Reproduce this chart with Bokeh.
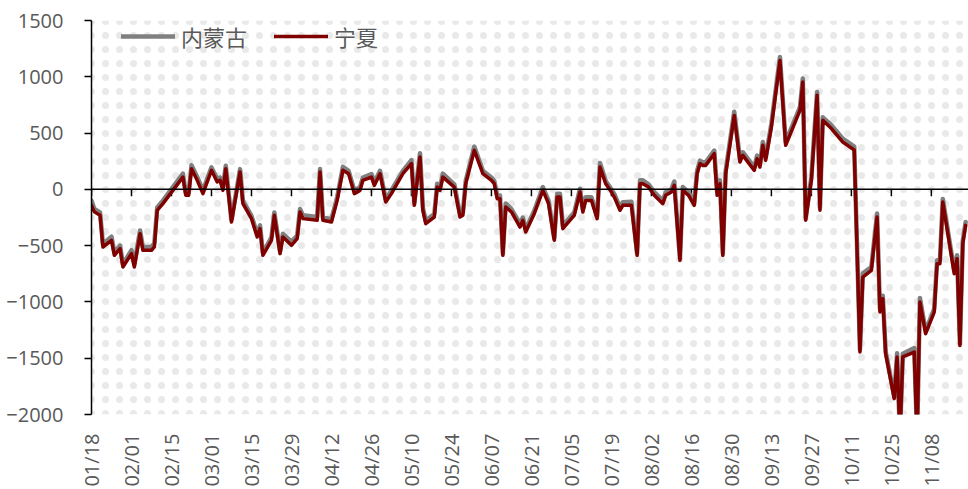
import math
import pandas as pd
from bokeh.plotting import figure
from bokeh.models import (Range1d, FixedTicker, DatetimeTickFormatter, Span, Legend,
                          LegendItem, BoxAnnotation)
from bokeh.embed import file_html
from bokeh.resources import INLINE

YEAR = 2021

dates = [
    "01-18", "01-19", "01-21", "01-22", "01-25", "01-26", "01-28", "01-29",
    "02-01", "02-02", "02-04", "02-05", "02-08", "02-09", "02-10", "02-12", "02-19", "02-20", "02-21", "02-22", "02-24", "02-26",
    "03-01", "03-03", "03-04", "03-05", "03-06", "03-08", "03-11", "03-12", "03-15", "03-17", "03-18", "03-19", "03-22", "03-23", "03-25", "03-26", "03-29", "03-31",
    "04-01", "04-02", "04-07", "04-08", "04-09", "04-12", "04-14", "04-16", "04-18", "04-20", "04-22", "04-23", "04-26", "04-27", "04-29",
    "05-01", "05-03", "05-07", "05-10", "05-11", "05-13", "05-14", "05-15", "05-18", "05-19", "05-20", "05-21", "05-25", "05-27", "05-28", "05-29",
    "06-01", "06-04", "06-07", "06-08", "06-09", "06-10", "06-11", "06-12", "06-14", "06-17", "06-18", "06-19", "06-22", "06-25", "06-27", "06-29", "06-30",
    "07-01", "07-02", "07-05", "07-06", "07-08", "07-09", "07-10", "07-12", "07-14", "07-15", "07-17", "07-19", "07-20", "07-22", "07-23", "07-26", "07-28", "07-29", "07-30",
    "08-01", "08-03", "08-06", "08-07", "08-09", "08-10", "08-12", "08-13", "08-15", "08-17", "08-18", "08-19", "08-20", "08-21", "08-24", "08-25", "08-26", "08-27", "08-28", "08-31",
    "09-02", "09-03", "09-07", "09-08", "09-09", "09-10", "09-11", "09-13", "09-16", "09-18", "09-23", "09-24", "09-25", "09-27", "09-29", "09-30",
    "10-01", "10-04", "10-08", "10-12", "10-14", "10-15", "10-18", "10-20", "10-21", "10-22", "10-23", "10-26", "10-27", "10-28", "10-29",
    "11-02", "11-03", "11-04", "11-06", "11-09", "11-10", "11-11", "11-12", "11-16", "11-17", "11-18", "11-19", "11-20",
]

ningxia = [
    -142, -200, -231, -512, -453, -586, -527, -690,
    -571, -690, -394, -542, -542, -512, -186, -127, 109, -53, -53, 184, 80, -38,
    169, 65, 80, -9, 184, -290, 154, -127, -260, -423, -349, -586, -453, -231, -571, -423, -497, -438,
    -201, -260, -275, 154, -275, -290, -98, 169, 139, -38, -9, 80, 109, 35, 139,
    -112, -38, 139, 228, -142, 287, -186, -305, -246, 20, -9, 109, 20, -246, -231, 50,
    346, 139, 80, 50, -83, -83, -586, -157, -201, -335, -275, -379, -216, -9, -127, -453, -68,
    -68, -349, -260, -231, -24, -201, -98, -98, -260, 198, 50, -24, -68, -186, -142, -142, -586, 50, 50,
    20, -53, -127, -53, -24, 35, -630, -9, -53, -142, 139, 228, 213, 213, 317, -53, 50, -586, 139, 657,
    243, 302, 169, 272, 198, 391, 258, 553, 1145, 391, 702, 953, -275, 80, 835, -186,
    613, 540, 420, 350, -1445, -779, -719, -246, -1090, -971, -1459, -1859, -1489, -2200, -1489,
    -1445, -2200, -1001, -1282, -1090, -660, -660, -112, -749, -616, -1386, -483, -320,
]

neimenggu = [
    -100, -175, -205, -485, -420, -560, -500, -665,
    -540, -665, -365, -515, -510, -480, -160, -100, 140, -30, -30, 215, 110, -10,
    195, 95, 105, 15, 210, -270, 180, -100, -235, -395, -320, -565, -425, -205, -550, -395, -465, -410,
    -175, -230, -245, 180, -250, -265, -70, 200, 165, -10, 20, 105, 135, 60, 165,
    -90, -10, 165, 260, -120, 320, -160, -280, -220, 50, 20, 140, 45, -220, -205, 75,
    380, 165, 105, 75, -55, -55, -570, -125, -175, -305, -250, -355, -190, 20, -100, -435, -40,
    -40, -325, -235, -205, 5, -175, -70, -70, -240, 235, 75, 0, -40, -160, -115, -110, -570, 80, 80,
    45, -25, -100, -25, 0, 70, -615, 20, -25, -115, 165, 255, 240, 240, 345, -20, 80, -570, 165, 690,
    270, 330, 195, 300, 225, 420, 285, 585, 1175, 420, 730, 985, -255, 110, 865, -165,
    640, 570, 450, 380, -1425, -745, -690, -215, -1065, -945, -1440, -1840, -1455, -2200, -1460,
    -1410, -2200, -965, -1260, -1060, -630, -630, -85, -720, -585, -1370, -455, -290,
]

tick_labels = ["01/18", "02/01", "02/15", "03/01", "03/15", "03/29", "04/12", "04/26",
               "05/10", "05/24", "06/07", "06/21", "07/05", "07/19", "08/02", "08/16",
               "08/30", "09/13", "09/27", "10/11", "10/25", "11/08"]
y_ticks = [-2000, -1500, -1000, -500, 0, 500, 1000, 1500]
series_names = ["内蒙古", "宁夏"]

assert len(dates) == len(ningxia) == len(neimenggu)

x = pd.to_datetime([f"{YEAR}-{d}" for d in dates])
tick_dates = pd.to_datetime([f"{YEAR}-{t.replace('/', '-')}" for t in tick_labels])
tick_ms = [t.timestamp() * 1000 for t in tick_dates]

LABEL = "#595959"
FONT = "Open Sans"

p = figure(width=968, height=489, x_axis_type="datetime", output_backend="svg",
           toolbar_location=None,
           x_range=Range1d(pd.Timestamp(f"{YEAR}-01-18"), pd.Timestamp(f"{YEAR}-11-21")),
           y_range=Range1d(-2000, 1500),
           min_border_left=91, min_border_right=0, min_border_top=20, min_border_bottom=0)
p.outline_line_color = None
p.xgrid.visible = False
p.ygrid.visible = False
p.background_fill_color = "white"
p.border_fill_color = "white"

# faint dotted background texture
p.add_layout(BoxAnnotation(fill_alpha=0, line_color=None, hatch_pattern="dot",
                           hatch_color="#e9e9e9", hatch_scale=14, hatch_weight=1,
                           level="underlay"))

# y axis
ya = p.yaxis[0]
ya.ticker = FixedTicker(ticks=y_ticks)
ya.axis_line_color = "black"
ya.axis_line_width = 1.5
ya.major_tick_line_color = "black"
ya.major_tick_line_width = 1.5
ya.major_tick_out = 7
ya.major_tick_in = 0
ya.minor_tick_line_color = None
ya.major_label_standoff = 21
ya.major_label_text_font = FONT
ya.major_label_text_font_size = "20px"
ya.major_label_text_color = LABEL

# x axis (labels at bottom)
xa = p.xaxis[0]
xa.ticker = FixedTicker(ticks=tick_ms)
fmt = "%m/%d"
xa.formatter = DatetimeTickFormatter(milliseconds=fmt, seconds=fmt, minsec=fmt, minutes=fmt,
                                     hourmin=fmt, hours=fmt, days=fmt, months=fmt, years=fmt)
xa.axis_line_color = None
xa.major_tick_line_color = None
xa.minor_tick_line_color = None
xa.major_tick_out = 0
xa.major_tick_in = 0
xa.major_label_orientation = math.pi / 2
xa.major_label_standoff = 19
xa.major_label_text_font = FONT
xa.major_label_text_font_size = "20px"
xa.major_label_text_color = LABEL

# zero line with tick marks
p.add_layout(Span(location=0, dimension="width", line_color="black", line_width=1.5))
p.segment(x0=tick_dates, y0=0, x1=tick_dates, y1=-62, line_color="black", line_width=1.5)

g = p.line(x, neimenggu, line_color="#808080", line_width=4.5, line_join="round", line_cap="round")
r = p.line(x, ningxia, line_color="#800000", line_width=3.5, line_join="round", line_cap="round")

legend = Legend(items=[LegendItem(label=series_names[0], renderers=[g]),
                       LegendItem(label=series_names[1], renderers=[r])],
                orientation="horizontal", location=(30, 362),
                label_text_font="Noto Sans CJK SC", label_text_font_size="22px",
                label_text_color=LABEL, label_height=30, glyph_width=54, glyph_height=30,
                label_standoff=6, spacing=27, padding=0, margin=0,
                background_fill_alpha=0, border_line_color=None)
p.add_layout(legend)

open("out.html", "w").write(file_html(p, INLINE))
